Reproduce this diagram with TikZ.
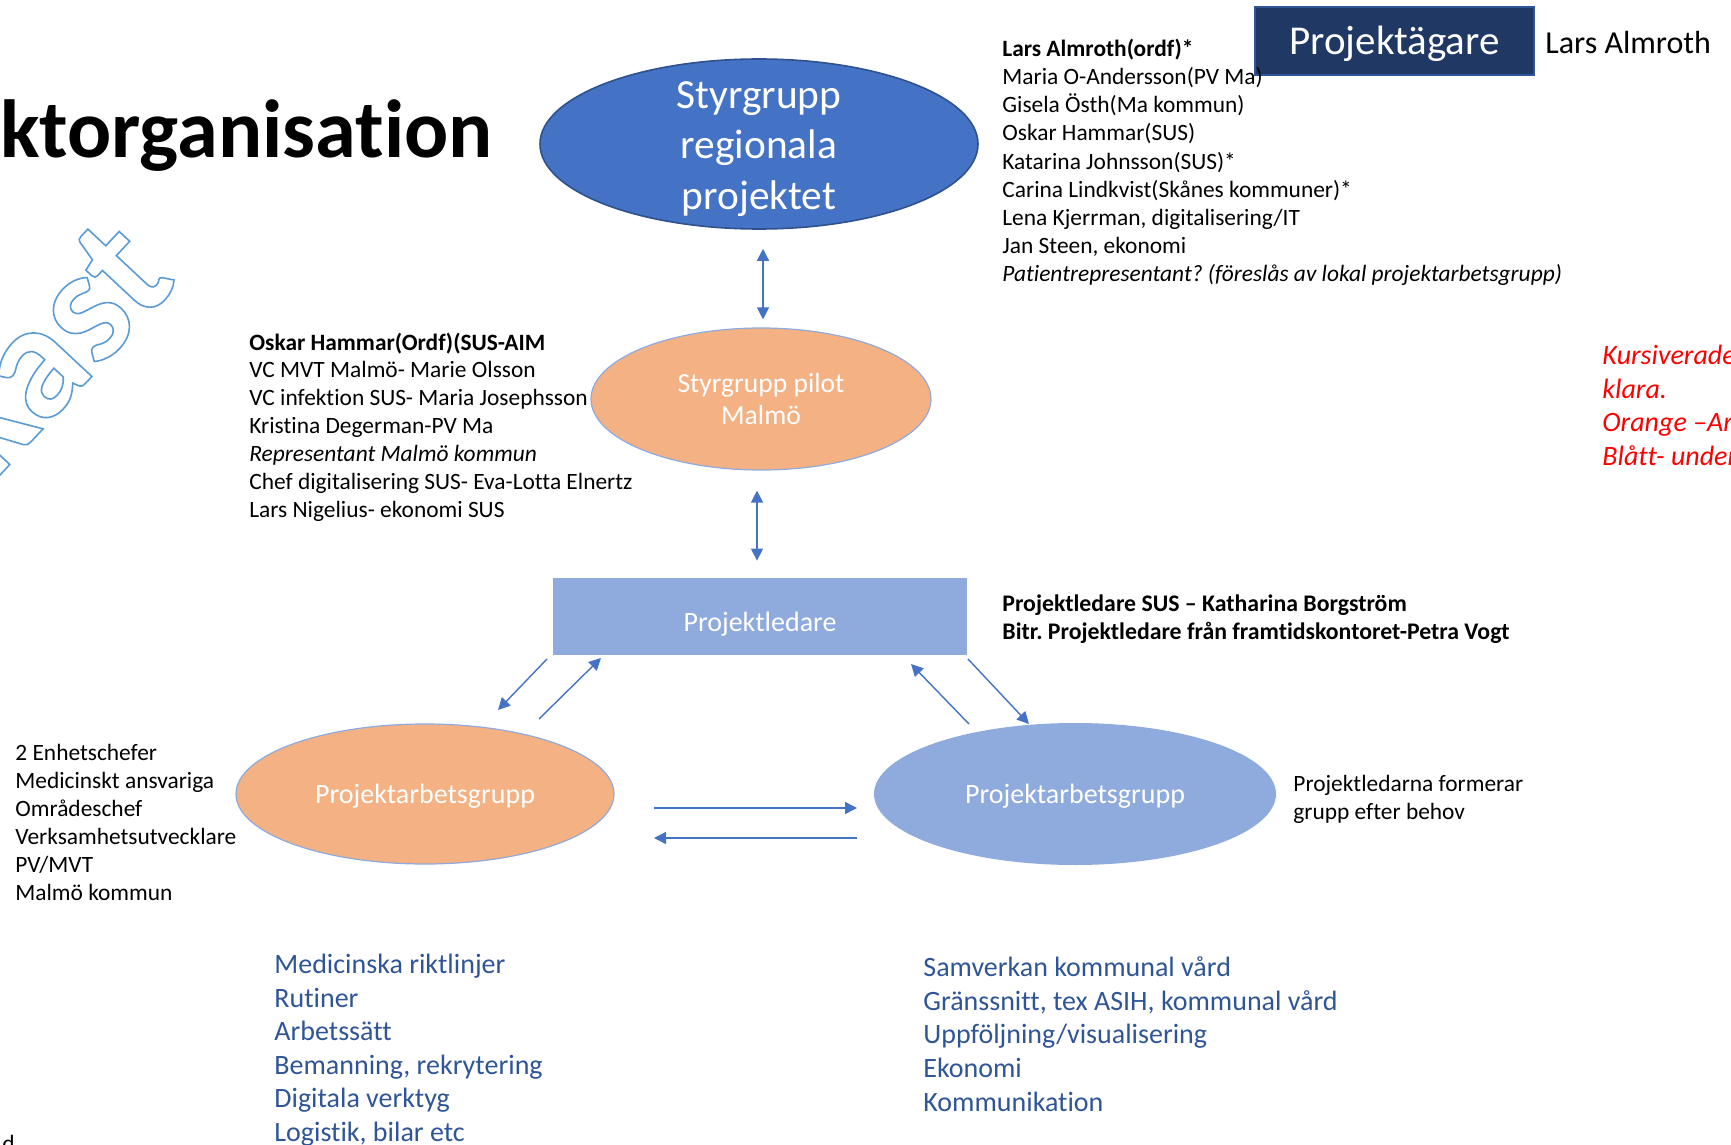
\documentclass[tikz,border=0pt]{standalone}
\usepackage{fontspec}
\setmainfont{Carlito}[Ligatures=NoCommon]
\usetikzlibrary{positioning,arrows.meta,shapes.geometric}

\definecolor{srblue}{HTML}{4472C4}
\definecolor{srline}{HTML}{2F528F}
\definecolor{lightblue}{HTML}{8FAADC}
\definecolor{orangefill}{HTML}{F4B183}
\definecolor{navy}{HTML}{203864}
\definecolor{navyline}{HTML}{2F5597}
\definecolor{listblue}{HTML}{2F5597}
\definecolor{wmblue}{HTML}{5B9BD5}

% hollow letters for the watermark
\newcommand\hollowtext[1]{\special{pdf:literal direct 1 Tr 0.8 w}#1\special{pdf:literal direct 0 Tr}}

\tikzset{
  ell/.style={ellipse, inner sep=0pt},
  listtxt/.style={anchor=base west, inner sep=0pt, font=\fontsize{11.7}{14}\selectfont},
  bluetxt/.style={anchor=base west, inner sep=0pt, text=listblue, font=\fontsize{14}{17}\selectfont},
  redtxt/.style={anchor=base west, inner sep=0pt, text=red, font=\fontsize{14}{17}\selectfont\itshape},
  boxtxt/.style={text=white, font=\fontsize{14}{16}\selectfont},
  arr/.style={draw=srblue, line width=0.7pt, -{Triangle[width=6pt,length=6pt]}},
  dblarr/.style={draw=srblue, line width=0.7pt, {Triangle[width=6pt,length=6pt]}-{Triangle[width=6pt,length=6pt]}},
}

\begin{document}
\frenchspacing
\begin{tikzpicture}[x=0.5pt,y=-0.5pt]
    \useasboundingbox (0,0) rectangle (1731,1145);
    \clip (0,0) rectangle (1731,1145);

    % title and watermark
    \node[anchor=base west, inner sep=0pt, font=\fontsize{41.2}{48}\selectfont\bfseries] (title) at (0,158) {ktorganisation};
    \node[rotate=47, anchor=base east, inner sep=0pt, text=wmblue, font=\fontsize{82}{82}\selectfont\bfseries] (wm) at (180,282) {\hollowtext{Utkast}};

    % owner
    \node[fill=navy, draw=navyline, line width=0.8pt, minimum width=139.5pt, minimum height=34pt] (pt) at (1394.5,41) {};
    \node[text=white, font=\fontsize{20.5}{24}\selectfont] (pttxt) at ([yshift=-1.6pt]pt.center) {Projektägare};
    \node[anchor=base west, inner sep=0pt, font=\fontsize{16}{19}\selectfont] (owner) at (1545,53.5) {Lars Almroth};

    % groups
    \node[ell, fill=srblue, draw=srline, line width=0.8pt, minimum width=219pt, minimum height=85pt] (sr) at (759,144) {};
    \node[text=white, align=center, font=\fontsize{20.7}{25.3}\selectfont] (srtxt) at ([yshift=-2.5pt]sr.center) {Styrgrupp\\regionala\\projektet};
    \node[ell, fill=orangefill, draw=lightblue, line width=0.6pt, minimum width=170pt, minimum height=71pt, boxtxt, align=center, font=\fontsize{13.8}{16}\selectfont] (sp) at (761,399) {Styrgrupp pilot\\Malmö};
    \node[fill=lightblue, minimum width=207pt, minimum height=38.5pt] (pl) at (760,616.5) {};
    \node[boxtxt] (pltxt) at ([yshift=-3.9pt]pl.center) {Projektledare};
    \node[ell, fill=orangefill, draw=lightblue, line width=0.6pt, minimum width=189pt, minimum height=70pt] (pao) at (425,794) {};
    \node[boxtxt] (paotxt) at ([yshift=-1pt]pao.center) {Projektarbetsgrupp};
    \node[ell, fill=lightblue, minimum width=201pt, minimum height=71pt] (pab) at (1075,794) {};
    \node[boxtxt] (pabtxt) at ([yshift=-1pt]pab.center) {Projektarbetsgrupp};

    % arrows
    \draw[dblarr, shorten <=9.5pt, shorten >=4pt] ([xshift=2pt]sr.south) -- ([xshift=1pt]sp.north);
    \draw[dblarr, shorten <=10pt, shorten >=8.5pt] ([xshift=-2pt]sp.south) -- ([xshift=-1.5pt]pl.north);
    \coordinate (a1) at (547,659); \coordinate (a2) at (498,710);
    \coordinate (b1) at (539,719); \coordinate (b2) at (601,658);
    \coordinate (c1) at (969,724); \coordinate (c2) at (911,664);
    \coordinate (d1) at (968,659); \coordinate (d2) at (1029,724);
    \coordinate (e1) at (654,808); \coordinate (e2) at (857,808);
    \coordinate (f1) at (857,838); \coordinate (f2) at (654,838);
    \draw[arr] (a1) -- (a2);
    \draw[arr] (b1) -- (b2);
    \draw[arr] (c1) -- (c2);
    \draw[arr] (d1) -- (d2);
    \draw[arr] (e1) -- (e2);
    \draw[arr] (f1) -- (f2);

    % member lists
    \foreach \txt [count=\i] in {{\bfseries Lars Almroth(ordf)*}, Maria O-Andersson(PV Ma), Gisela Östh(Ma kommun), Oskar Hammar(SUS), Katarina Johnsson(SUS)*, Carina Lindkvist(Skånes kommuner)*, {Lena Kjerrman, digitalisering/IT}, {Jan Steen, ekonomi}, {\itshape Patientrepresentant? (föreslås av lokal projektarbetsgrupp)}}
        \node[listtxt] (srm\i) at (1002,{56.5+28.15*(\i-1)}) {\txt};
    \foreach \txt [count=\i] in {{\bfseries Oskar Hammar(Ordf)(SUS-AIM}, VC MVT Malmö- Marie Olsson, VC infektion SUS- Maria Josephsson, Kristina Degerman-PV Ma, {\itshape Representant Malmö kommun}, Chef digitalisering SUS- Eva-Lotta Elnertz, Lars Nigelius- ekonomi SUS}
        \node[listtxt] (spm\i) at (249,{350+27.97*(\i-1)}) {\txt};
    \foreach \txt [count=\i] in {Projektledare SUS – Katharina Borgström, Bitr. Projektledare från framtidskontoret-Petra Vogt}
        \node[listtxt, font=\fontsize{11.9}{14}\selectfont\bfseries] (plm\i) at (1002,{611+28.5*(\i-1)}) {\txt};
    \foreach \txt [count=\i] in {Projektledarna formerar, grupp efter behov}
        \node[listtxt] (pabm\i) at (1293,{791+28.5*(\i-1)}) {\txt};
    \foreach \txt [count=\i] in {2 Enhetschefer, Medicinskt ansvariga, Områdeschef, Verksamhetsutvecklare, PV/MVT, Malmö kommun}
        \node[listtxt] (paom\i) at (15,{760+28.04*(\i-1)}) {\txt};
    \node[listtxt, anchor=base east] (cut) at (15,1151) {d};

    % tasks
    \foreach \txt [count=\i] in {Medicinska riktlinjer, Rutiner, Arbetssätt, {Bemanning, rekrytering}, Digitala verktyg, {Logistik, bilar etc}}
        \node[bluetxt] (paot\i) at (274,{973.5+33.56*(\i-1)}) {\txt};
    \foreach \txt [count=\i] in {Samverkan kommunal vård, {Gränssnitt, tex ASIH, kommunal vård}, Uppföljning/visualisering, Ekonomi, Kommunikation}
        \node[bluetxt] (pabt\i) at (923,{976.5+33.7*(\i-1)}) {\txt};

    % notes
    \foreach \txt [count=\i] in {Kursiverade, klara., Orange –Ar, Blått- under}
        \node[redtxt] (note\i) at (1602,{364.5+33.5*(\i-1)}) {\txt};
\end{tikzpicture}
\end{document}
